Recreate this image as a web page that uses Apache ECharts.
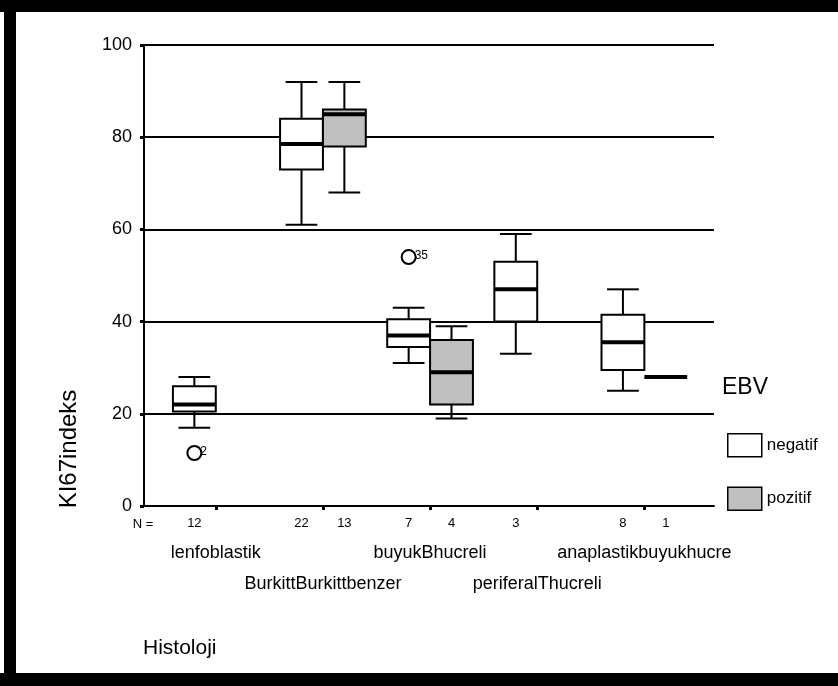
<!DOCTYPE html>
<html>
<head>
<meta charset="utf-8">
<script src="https://cdn.jsdelivr.net/npm/echarts@6/dist/echarts.min.js"></script>
<style>
  html, body { margin: 0; padding: 0; background: #fff; }
  #chart { width: 838px; height: 686px; }
</style>
</head>
<body>
<div id="chart"></div>
<script>
// Histology groups along the x axis
const categories = ['lenfoblastik', 'BurkittBurkittbenzer', 'buyukBhucreli', 'periferalThucreli', 'anaplastikbuyukhucre'];

// Box statistics per group: [min, Q1, median, Q3, max]
const negatifStats = [
  [17, 20.5, 22, 26, 28],
  [61, 73, 78.5, 84, 92],
  [31, 34.5, 37, 40.5, 43],
  [33, 40, 47, 53, 59],
  [25, 29.5, 35.5, 41.5, 47]
];
const pozitifStats = [
  null,
  [68, 78, 85, 86, 92],
  [19, 22, 29, 36, 39],
  null,
  [28, 28, 28, 28, 28]
];

// Case counts shown in the "N =" row
const negatifN = [12, 22, 7, 3, 8];
const pozitifN = [null, 13, 4, null, 1];

// Outlying cases (negatif group): category index, value, case number
const outlierCats = [0, 2];
const outlierValues = [11.5, 54];
const outlierCases = ['2', '35'];

const FONT = '"Liberation Sans", Arial, Helvetica, sans-serif';
const BOX_W = 0.4;   // box width in category units
const SIDE = { negatif: -1, pozitif: 1 };

function boxRenderer(side, fill) {
  return function (params, api) {
    const c = api.value(0);
    const center = c + side * BOX_W / 2;
    const xl = api.coord([center - BOX_W / 2, 0])[0];
    const xr = api.coord([center + BOX_W / 2, 0])[0];
    const xc = (xl + xr) / 2;
    const cap = (xr - xl) * 0.37;
    const y = v => api.coord([c, v])[1];
    const yMin = y(api.value(1)), yQ1 = y(api.value(2)), yMed = y(api.value(3)),
          yQ3 = y(api.value(4)), yMax = y(api.value(5));
    const st = { stroke: '#000', lineWidth: 2, fill: null };
    const children = [];
    if (yMax < yQ3) {
      children.push({ type: 'line', shape: { x1: xc, y1: yQ3, x2: xc, y2: yMax }, style: st });
      children.push({ type: 'line', shape: { x1: xc - cap, y1: yMax, x2: xc + cap, y2: yMax }, style: st });
    }
    if (yMin > yQ1) {
      children.push({ type: 'line', shape: { x1: xc, y1: yQ1, x2: xc, y2: yMin }, style: st });
      children.push({ type: 'line', shape: { x1: xc - cap, y1: yMin, x2: xc + cap, y2: yMin }, style: st });
    }
    if (yQ1 > yQ3) {
      children.push({ type: 'rect', shape: { x: xl, y: yQ3, width: xr - xl, height: yQ1 - yQ3 },
        style: { fill: fill, stroke: '#000', lineWidth: 2 } });
    }
    children.push({ type: 'line', shape: { x1: xl, y1: yMed, x2: xr, y2: yMed },
      style: { stroke: '#000', lineWidth: 4 } });
    return { type: 'group', children: children };
  };
}

function toBoxData(stats) {
  const out = [];
  stats.forEach((s, i) => { if (s) out.push([i].concat(s)); });
  return out;
}

const nData = [];
negatifN.forEach((n, i) => { if (n != null) nData.push([i, SIDE.negatif, n]); });
pozitifN.forEach((n, i) => { if (n != null) nData.push([i, SIDE.pozitif, n]); });

const outlierData = outlierCats.map((c, i) => [c, outlierValues[i], i]);

const chart = echarts.init(document.getElementById('chart'), null, { renderer: 'canvas' });

chart.setOption({
  animation: false,
  backgroundColor: '#fff',
  textStyle: { fontFamily: FONT, color: '#000' },
  grid: { left: 144, right: 124, top: 45, bottom: 180, containLabel: false, outerBoundsMode: 'none' },
  xAxis: {
    type: 'value',
    min: -0.67,
    max: 4.65,
    axisLine: { show: true, onZero: false, lineStyle: { color: '#000', width: 2 } },
    axisTick: { show: true, customValues: [0, 1, 2, 3, 4], length: 4, lineStyle: { color: '#000', width: 3 } },
    axisLabel: { show: false },
    splitLine: { show: false }
  },
  yAxis: {
    type: 'value',
    min: 0,
    max: 100,
    interval: 20,
    axisLine: { show: true, onZero: false, lineStyle: { color: '#000', width: 2 } },
    axisTick: { show: true, length: 4, lineStyle: { color: '#000', width: 3 } },
    axisLabel: { color: '#000', fontSize: 18, fontFamily: FONT, margin: 12 },
    splitLine: { show: true, lineStyle: { color: '#000', width: 2 } }
  },
  legend: {
    data: [
      { name: 'negatif', icon: 'rect', itemStyle: { color: '#ffffff', borderColor: '#000', borderWidth: 1.5 } },
      { name: 'pozitif', icon: 'rect', itemStyle: { color: '#c0c0c0', borderColor: '#000', borderWidth: 1.5 } }
    ],
    orient: 'vertical',
    left: 727,
    top: 433,
    padding: 0,
    itemWidth: 34,
    itemHeight: 23,
    itemGap: 29,
    selectedMode: false,
    textStyle: { fontSize: 17, color: '#000', fontFamily: FONT }
  },
  graphic: [
    { type: 'rect', shape: { x: 0, y: 0, width: 838, height: 12 }, style: { fill: '#000' } },
    { type: 'rect', shape: { x: 4, y: 0, width: 12, height: 686 }, style: { fill: '#000' } },
    { type: 'rect', shape: { x: 0, y: 673, width: 838, height: 13 }, style: { fill: '#000' } },
    { type: 'text', x: 69, y: 449, rotation: Math.PI / 2,
      style: { text: 'KI67indeks', fontSize: 24, fontFamily: FONT, fill: '#000', textAlign: 'center', textVerticalAlign: 'middle' } },
    { type: 'text', x: 143, y: 648,
      style: { text: 'Histoloji', fontSize: 21, fontFamily: FONT, fill: '#000', textAlign: 'left', textVerticalAlign: 'middle' } },
    { type: 'text', x: 722, y: 388,
      style: { text: 'EBV', fontSize: 23, fontFamily: FONT, fill: '#000', textAlign: 'left', textVerticalAlign: 'middle' } },
    { type: 'text', x: 143, y: 524,
      style: { text: 'N =', fontSize: 13, fontFamily: FONT, fill: '#000', textAlign: 'center', textVerticalAlign: 'middle' } }
  ],
  series: [
    {
      name: 'negatif',
      type: 'custom',
      clip: false,
      itemStyle: { color: '#ffffff', borderColor: '#000' },
      encode: { x: 0, y: [1, 2, 3, 4, 5] },
      data: toBoxData(negatifStats),
      renderItem: boxRenderer(SIDE.negatif, '#ffffff')
    },
    {
      name: 'pozitif',
      type: 'custom',
      clip: false,
      itemStyle: { color: '#c0c0c0', borderColor: '#000' },
      encode: { x: 0, y: [1, 2, 3, 4, 5] },
      data: toBoxData(pozitifStats),
      renderItem: boxRenderer(SIDE.pozitif, '#c0c0c0')
    },
    {
      // outlying cases with their case numbers
      type: 'custom',
      clip: false,
      encode: { x: 0, y: 1 },
      data: outlierData,
      renderItem: function (params, api) {
        const c = api.value(0);
        const p = api.coord([c + SIDE.negatif * BOX_W / 2, api.value(1)]);
        return {
          type: 'group',
          children: [
            { type: 'circle', shape: { cx: p[0], cy: p[1], r: 7 }, style: { fill: '#fff', stroke: '#000', lineWidth: 2 } },
            { type: 'text', x: p[0] + 6, y: p[1] - 1,
              style: { text: outlierCases[api.value(2)], fontSize: 12, fontFamily: FONT, fill: '#000', textAlign: 'left', textVerticalAlign: 'middle' } }
          ]
        };
      }
    },
    {
      // case counts under each box
      type: 'custom',
      clip: false,
      encode: { x: 0 },
      data: nData,
      renderItem: function (params, api) {
        const p = api.coord([api.value(0) + api.value(1) * BOX_W / 2, 0]);
        return { type: 'text', x: p[0], y: p[1] + 17,
          style: { text: String(api.value(2)), fontSize: 13, fontFamily: FONT, fill: '#000', textAlign: 'center', textVerticalAlign: 'middle' } };
      }
    },
    {
      // staggered group names
      type: 'custom',
      clip: false,
      encode: { x: 0 },
      data: categories.map((name, i) => [i]),
      renderItem: function (params, api) {
        const i = api.value(0);
        const p = api.coord([i, 0]);
        return { type: 'text', x: p[0], y: p[1] + (i % 2 === 0 ? 47 : 78),
          style: { text: categories[i], fontSize: 18, fontFamily: FONT, fill: '#000', textAlign: 'center', textVerticalAlign: 'middle' } };
      }
    }
  ]
});
</script>
</body>
</html>
